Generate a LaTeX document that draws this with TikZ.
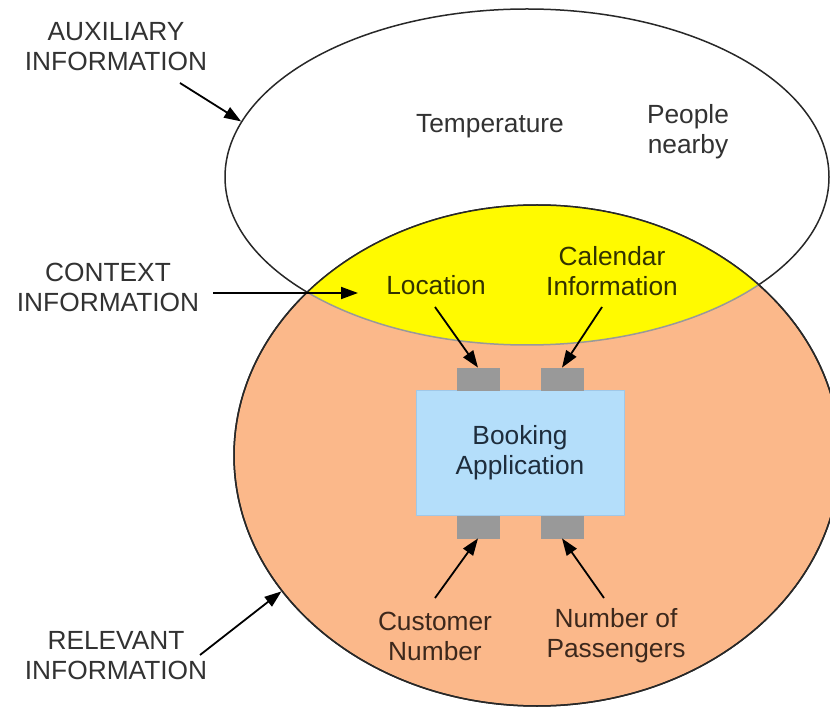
\documentclass[tikz,border=0pt]{standalone}
\usepackage{fontspec}
\setmainfont{Liberation Sans}
\usetikzlibrary{shapes.geometric,arrows.meta}

\definecolor{relfill}{RGB}{251,184,138}
\definecolor{ctxfill}{RGB}{255,250,0}
\definecolor{appfill}{RGB}{180,222,250}
\definecolor{appline}{RGB}{160,200,232}
\definecolor{portfill}{RGB}{153,153,153}
\definecolor{outline}{RGB}{40,40,40}
\definecolor{labeltext}{RGB}{50,50,50}
\definecolor{ctxtext}{RGB}{50,50,0}
\definecolor{reltext}{RGB}{60,40,28}
\definecolor{apptext}{RGB}{30,45,60}

\tikzset{
  txt/.style={font=\fontsize{26.3}{30}\selectfont, align=center, inner sep=0pt},
  setlabel/.style={txt, text=labeltext},
  ctxlabel/.style={txt, text=ctxtext},
  rellabel/.style={txt, text=reltext},
  region/.style={ellipse, inner sep=0pt, draw=outline, line width=1.5pt},
  port/.style={rectangle, fill=portfill, draw=portfill, inner sep=0pt,
               minimum width=42pt, minimum height=22pt},
  arr/.style={line width=1.8pt, draw=black,
              -{Triangle[length=17pt,width=12pt]}},
}

\begin{document}
\begin{tikzpicture}[x=1pt,y=-1pt]
  \useasboundingbox (0,0) rectangle (830,708);

  % auxiliary information set
  \node[region, fill=white, minimum width=604pt, minimum height=336pt]
    (aux) at (527,177) {};
  % relevant information set
  \node[region, fill=relfill, minimum width=606pt, minimum height=501pt]
    (rel) at (537,455.5) {};

  % context information = overlap of the two sets
  \begin{scope}
    \clip (537,455.5) ellipse [x radius=303pt, y radius=250.5pt];
    \fill[ctxfill] (527,177) ellipse [x radius=302pt, y radius=168pt];
    \draw[portfill, line width=1.5pt] (527,177) ellipse [x radius=302pt, y radius=168pt];
  \end{scope}
  \draw[outline, line width=1.5pt] (537,455.5) ellipse [x radius=303pt, y radius=250.5pt];

  % application with its input ports
  \node[rectangle, fill=appfill, draw=appline, line width=1pt, inner sep=0pt,
        minimum width=208pt, minimum height=124pt,
        txt, text=apptext] (app) at (520,453) {Booking\\Application};
  \node[port, anchor=south] (ptl) at (478,390) {};
  \node[port, anchor=south] (ptr) at (562,390) {};
  \node[port, anchor=north] (pbl) at (478,516) {};
  \node[port, anchor=north] (pbr) at (562,516) {};

  % set labels
  \node[setlabel] (auxlbl) at (116,47) {AUXILIARY\\INFORMATION};
  \node[setlabel] (ctxlbl) at (108,287) {CONTEXT\\INFORMATION};
  \node[setlabel] (rellbl) at (116,656) {RELEVANT\\INFORMATION};

  % items
  \node[txt, text=labeltext] (temp) at (490,126) {Temperature};
  \node[txt, text=labeltext] (people) at (688,132) {People\\nearby};
  \node[ctxlabel] (loc) at (436,285) {Location};
  \node[ctxlabel] (cal) at (612,271) {Calendar\\Information};
  \node[rellabel] (cust) at (435,636) {Customer\\Number};
  \node[rellabel] (pass) at (616,636) {Number of\\Passengers};

  % connector tails
  \coordinate (auxTail) at (180,83);
  \coordinate (ctxTail) at (213,293);
  \coordinate (ctxHead) at (358,293);
  \coordinate (relTail) at (200,655);
  \coordinate (locTail) at (435,307);
  \coordinate (calTail) at (602,307);
  \coordinate (custTail) at (435,598);
  \coordinate (passTail) at (604,598);

  % connectors
  \draw[arr] (auxTail) -- (aux.169.6);
  \draw[arr] (ctxTail) -- (ctxHead);
  \draw[arr] (relTail) -- (rel.208.6);
  \draw[arr] (locTail) -- (ptl.north);
  \draw[arr] (calTail) -- (ptr.north);
  \draw[arr] (custTail) -- (pbl.south);
  \draw[arr] (passTail) -- (pbr.south);
\end{tikzpicture}
\end{document}
